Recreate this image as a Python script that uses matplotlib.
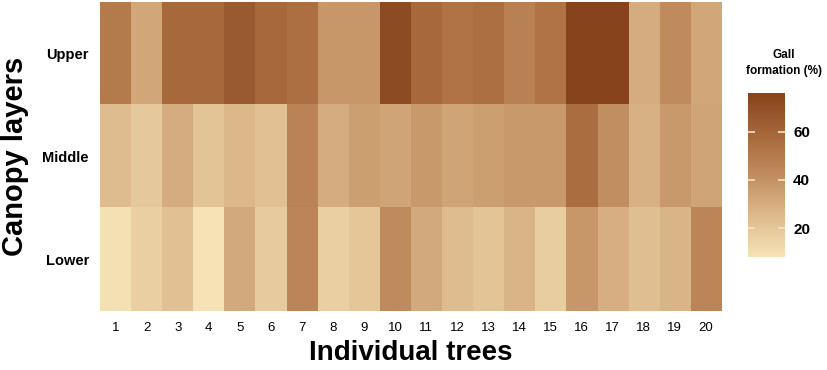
import numpy as np
import matplotlib
import matplotlib.pyplot as plt
from matplotlib.colors import LinearSegmentedColormap

plt.rcParams['font.family'] = ['Liberation Sans', 'DejaVu Sans']

trees = [str(i) for i in range(1, 21)]
layers = ['Upper', 'Middle', 'Lower']

# gall formation (%) per tree
upper = [50, 32, 58, 58, 65, 58, 55, 38, 38, 72, 58, 53, 55, 47, 53, 76, 76, 30, 42, 32]
middle = [24, 19, 30, 21, 26, 22, 46, 30, 35, 33, 37, 33, 35, 37, 37, 56, 41, 28, 37, 33]
lower = [9, 16, 22, 8, 31, 18, 45, 16, 20, 42, 31, 24, 21, 27, 17, 38, 29, 23, 27, 45]

data = np.array([upper, middle, lower])

cmap = LinearSegmentedColormap.from_list(
    'gall', ['#F5E3B6', '#DDBA8D', '#C08C5E', '#A6673A', '#86431C'])

fig = plt.figure(figsize=(8.27, 3.70), dpi=100)
ax = fig.add_axes([0.121, 0.159, 0.751, 0.836])
im = ax.imshow(data, cmap=cmap, vmin=8, vmax=76, aspect='auto',
               interpolation='nearest')

ax.set_xticks(range(len(trees)))
ax.set_xticklabels(trees, fontsize=9.5)
ax.set_yticks(range(len(layers)))
ax.set_yticklabels(layers, fontsize=10.5, fontweight='bold')
ax.tick_params(length=0, pad=8)
for s in ax.spines.values():
    s.set_visible(False)

ax.set_xlabel('Individual trees', fontsize=20, fontweight='bold', labelpad=4)
ax.set_ylabel('Canopy layers', fontsize=21, fontweight='bold', labelpad=10)

cax = fig.add_axes([0.904, 0.305, 0.045, 0.444])
cb = fig.colorbar(im, cax=cax)
cb.outline.set_visible(False)
cb.set_ticks([20, 40, 60])
cax.tick_params(axis='y', direction='in', left=True, right=True,
                labelleft=False, labelright=True, length=5, width=1.2,
                color='#F3E3CC', labelsize=11, pad=6)
for lab in cax.get_yticklabels():
    lab.set_fontweight('bold')

fig.text(0.948, 0.83, 'Gall\nformation (%)', ha='center', va='center',
         fontsize=8.5, fontweight='bold', linespacing=1.5)

fig.savefig('out.png', dpi=100)
